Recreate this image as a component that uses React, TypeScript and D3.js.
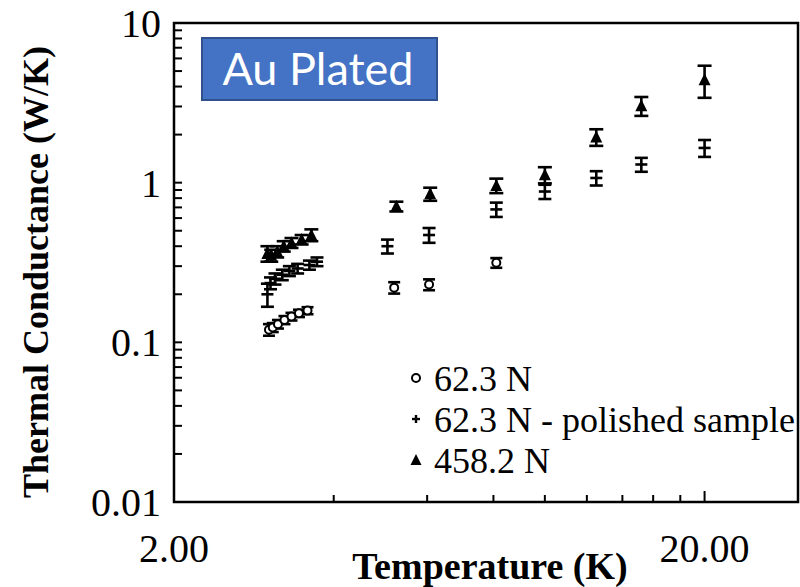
import React from "react";
import * as d3 from "d3";

// Thermal conductance vs temperature, Au plated contacts
const circleT = [3.02, 3.07, 3.14, 3.23, 3.33, 3.44, 3.57, 5.2, 6.05, 8.1];
const circleG = [0.12, 0.124, 0.13, 0.138, 0.145, 0.152, 0.158, 0.22, 0.23, 0.315];
const circleErr = [0.01, 0.008, 0.008, 0.008, 0.008, 0.008, 0.008, 0.018, 0.018, 0.022];

const plusT = [3.0, 3.04, 3.1, 3.2, 3.3, 3.42, 3.6, 3.72, 5.05, 6.05, 8.1, 10.0, 12.5, 15.2, 20.0];
const plusG = [0.2, 0.235, 0.25, 0.265, 0.28, 0.29, 0.305, 0.32, 0.4, 0.47, 0.68, 0.88, 1.07, 1.3, 1.65];
const plusErr = [0.033, 0.02, 0.02, 0.02, 0.02, 0.02, 0.02, 0.02, 0.04, 0.05, 0.07, 0.09, 0.11, 0.13, 0.2];

const triT = [3.0, 3.05, 3.13, 3.22, 3.33, 3.48, 3.63, 5.25, 6.08, 8.1, 10.0, 12.5, 15.2, 20.0];
const triG = [0.36, 0.35, 0.37, 0.4, 0.42, 0.44, 0.47, 0.71, 0.85, 0.96, 1.12, 1.93, 3.03, 4.4];
const triErr = [0.04, 0.03, 0.03, 0.03, 0.03, 0.03, 0.04, 0.05, 0.08, 0.1, 0.13, 0.23, 0.41, 1.0];

const xDomain = [2, 30];
const yDomain = [0.01, 10];
const xTickLabels = [2, 20];
const xMinorTicks = [4, 6, 8, 10, 12, 14, 16, 18];
const yTickLabels = ["0.01", "0.1", "1", "10"];
const legendLabels = ["62.3 N", "62.3 N - polished sample", "458.2 N"];

const W = 800;
const H = 587;
const left = 174;
const right = 798;
const top = 23;
const bottom = 502;

const x = d3.scaleLog().domain(xDomain).range([left, right]);
const y = d3.scaleLog().domain(yDomain).range([bottom, top]);

const serif = "'Times New Roman', 'Liberation Serif', serif";

function ErrorBars({ T, G, E, cap }: { T: number[]; G: number[]; E: number[]; cap: number }) {
  return (
    <g stroke="#000" strokeWidth={2.6}>
      {T.map((t, i) => {
        const cx = x(t);
        const y1 = y(G[i] + E[i]);
        const y2 = y(G[i] - E[i]);
        return (
          <g key={i}>
            <line x1={cx} x2={cx} y1={y1} y2={y2} />
            <line x1={cx - cap / 2} x2={cx + cap / 2} y1={y1} y2={y1} />
            <line x1={cx - cap / 2} x2={cx + cap / 2} y1={y2} y2={y2} />
          </g>
        );
      })}
    </g>
  );
}

const triPath = (cx: number, cy: number, s: number) =>
  `M${cx},${cy - s * 0.55}L${cx + s * 0.5},${cy + s * 0.45}L${cx - s * 0.5},${cy + s * 0.45}Z`;

export default function App() {
  // y ticks: minor at 2..9 of each decade, inward
  const yTicks: number[] = [];
  for (let d = 0.01; d < 10; d *= 10) {
    for (let k = 2; k <= 9; k++) yTicks.push(+(d * k).toPrecision(3));
    if (d * 10 < 10) yTicks.push(+(d * 10).toPrecision(3));
  }

  const legendY = [378, 419, 460];

  return (
    <svg width={W} height={H} style={{ position: "absolute", left: 0, top: 0 }}>
      <rect width={W} height={H} fill="#fff" />

      {/* axis ticks, drawn inward */}
      <g stroke="#000" strokeWidth={2}>
        {yTicks.map((v, i) => (
          <line key={i} x1={left} x2={left + 8} y1={y(v)} y2={y(v)} />
        ))}
        {xMinorTicks.map((v, i) => (
          <line key={i} x1={x(v)} x2={x(v)} y1={bottom} y2={bottom - 7} />
        ))}
        <line x1={x(20)} x2={x(20)} y1={bottom} y2={bottom - 11} />
      </g>

      {/* frame */}
      <rect x={left} y={top} width={right - left} height={bottom - top} fill="none" stroke="#000" strokeWidth={2.5} />

      {/* y tick labels */}
      <g fontFamily={serif} fontSize={40} textAnchor="end" fill="#000">
        {yTickLabels.map((t) => (
          <text key={t} x={161} y={y(+t)} dy="0.35em">
            {t}
          </text>
        ))}
      </g>
      {/* x tick labels */}
      <g fontFamily={serif} fontSize={40} textAnchor="middle" fill="#000">
        {xTickLabels.map((t) => (
          <text key={t} x={x(t)} y={562}>
            {t.toFixed(2)}
          </text>
        ))}
      </g>

      {/* axis titles */}
      <text x={490} y={579} fontFamily={serif} fontSize={38} fontWeight="bold" textAnchor="middle">
        Temperature (K)
      </text>
      <text
        transform={`translate(48,${272}) rotate(-90)`}
        fontFamily={serif}
        fontSize={36}
        fontWeight="bold"
        textAnchor="middle"
      >
        Thermal Conductance (W/K)
      </text>

      {/* title box */}
      <rect x={202} y={38} width={235} height={62} fill="#4472C4" stroke="#2F528F" strokeWidth={2} />
      <text x={318} y={85} fill="#fff" fontFamily="Lato, 'Open Sans', sans-serif" fontSize={45} textAnchor="middle">
        Au Plated
      </text>

      {/* error bars */}
      <ErrorBars T={circleT} G={circleG} E={circleErr} cap={12} />
      <ErrorBars T={plusT} G={plusG} E={plusErr} cap={13} />
      <ErrorBars T={triT} G={triG} E={triErr} cap={14} />

      {/* markers */}
      <g fill="#fff" stroke="#000" strokeWidth={2}>
        {circleT.map((t, i) => (
          <circle key={i} cx={x(t)} cy={y(circleG[i])} r={4} />
        ))}
      </g>
      <g stroke="#000" strokeWidth={2.6}>
        {plusT.map((t, i) => (
          <line key={i} x1={x(t) - 6} x2={x(t) + 6} y1={y(plusG[i])} y2={y(plusG[i])} />
        ))}
      </g>
      <g fill="#000">
        {triT.map((t, i) => (
          <path key={i} d={triPath(x(t), y(triG[i]), 12)} />
        ))}
      </g>

      {/* legend */}
      <g>
        <circle cx={416} cy={legendY[0]} r={4} fill="#fff" stroke="#000" strokeWidth={2} />
        <g stroke="#000" strokeWidth={2.4}>
          <line x1={412} x2={420} y1={legendY[1]} y2={legendY[1]} />
          <line x1={416} x2={416} y1={legendY[1] - 4} y2={legendY[1] + 4} />
        </g>
        <path d={triPath(416, legendY[2], 11)} fill="#000" />
        <g fontFamily={serif} fontSize={36} fill="#000">
          {legendLabels.map((l, i) => (
            <text key={l} x={434} y={legendY[i]} dy="0.35em">
              {l}
            </text>
          ))}
        </g>
      </g>
    </svg>
  );
}
